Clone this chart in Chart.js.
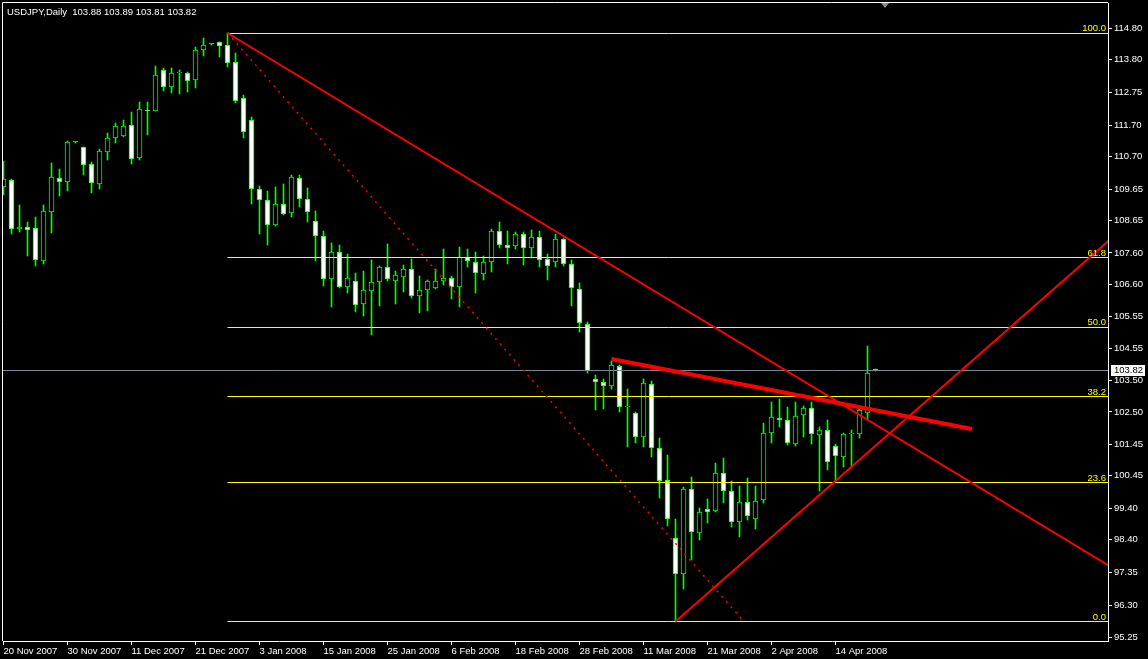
<!DOCTYPE html>
<html><head><meta charset="utf-8">
<script src="https://cdn.jsdelivr.net/npm/chart.js@4.4.1/dist/chart.umd.min.js"></script>
<style>html,body{margin:0;padding:0;background:#000;overflow:hidden}#wrap{width:1148px;height:659px;position:relative}</style>
</head><body><div id="wrap"><canvas id="c"></canvas></div>
<script>
const symbolTitle = 'USDJPY,Daily';
const lastQuote = ['103.88', '103.89', '103.81', '103.82'];

const open = [109.73,109.94,108.37,108.42,108.39,107.35,108.92,110.00,109.89,111.15,
111.00,110.46,109.82,110.85,111.30,111.36,111.71,110.65,112.19,112.17,
113.47,112.94,113.38,113.38,113.16,114.12,114.30,114.36,114.27,113.73,
112.56,111.86,109.64,109.29,108.49,109.16,108.87,110.00,109.32,108.62,
108.14,106.76,107.62,106.52,106.69,105.95,106.39,106.66,107.14,106.71,
106.84,107.08,106.23,106.42,106.49,106.69,106.79,106.50,107.46,107.30,
106.92,107.30,108.30,107.85,107.82,108.20,107.75,108.10,107.40,107.30,
108.04,107.24,106.43,105.31,103.55,103.45,103.32,103.96,102.65,102.46,
101.69,103.39,101.33,100.31,98.44,97.29,100.02,98.62,99.37,99.33,
100.53,99.95,98.96,99.60,99.07,99.66,101.81,102.30,102.23,101.46,
102.39,102.62,101.75,101.91,101.40,101.04,101.78,101.78,102.46,103.88];
const high = [110.55,109.97,109.14,108.59,108.76,109.14,110.49,110.30,111.19,111.16,
111.00,110.52,110.94,111.45,111.77,111.87,112.12,112.45,112.45,113.60,
113.54,113.54,113.47,113.41,114.21,114.50,114.31,114.36,114.66,114.02,
112.67,111.95,109.75,109.59,109.71,109.81,110.10,110.10,109.69,108.94,
108.31,107.92,107.86,107.57,106.96,107.02,107.38,107.18,107.89,107.02,
107.21,107.41,106.86,106.72,107.08,107.73,106.85,107.79,107.73,107.63,
107.50,108.36,108.59,108.30,108.26,108.26,108.33,108.30,107.56,108.20,
108.07,107.37,106.63,105.38,103.68,103.56,104.13,104.00,103.24,102.49,
103.56,103.49,101.66,101.12,99.06,100.08,100.40,99.43,99.71,100.86,
101.02,100.28,100.11,100.37,100.11,102.14,102.81,102.90,102.66,102.82,
102.68,102.81,102.01,102.24,101.46,101.81,101.92,102.65,104.62,103.89];
const low = [109.46,108.21,108.27,107.50,107.18,107.25,108.24,109.43,109.59,111.14,
110.10,109.53,109.65,110.58,111.13,111.32,110.46,110.58,111.39,112.15,
112.80,112.73,112.70,112.77,112.90,113.92,114.29,113.89,113.57,112.41,
111.30,109.18,108.22,107.87,108.47,108.82,108.76,109.09,108.60,107.35,
106.55,105.88,106.49,106.33,105.71,105.59,104.97,105.90,106.71,105.97,
106.36,106.17,105.68,105.75,106.45,106.56,106.13,105.88,107.14,106.31,
106.73,106.98,107.75,107.24,107.72,107.21,107.43,107.14,106.72,107.14,
107.17,105.90,105.05,103.76,102.57,102.60,103.23,102.51,101.38,101.51,
101.38,101.06,99.75,98.84,95.77,96.81,97.75,98.39,98.94,99.30,
99.59,98.82,98.50,99.04,98.75,99.57,101.49,102.03,101.43,101.40,
101.70,101.46,99.97,100.63,100.24,100.74,100.77,101.65,102.23,103.81];
const close = [109.97,108.37,108.43,108.35,107.38,108.95,110.04,109.89,111.16,111.15,
110.43,109.86,110.87,111.29,111.68,111.68,110.63,112.22,112.17,113.31,
112.94,113.38,113.40,113.13,114.11,114.27,114.30,114.25,113.71,112.49,
111.47,109.64,109.29,108.49,109.16,108.86,110.03,109.32,108.91,108.14,
106.76,107.62,106.52,106.79,105.92,106.40,106.66,107.14,106.78,106.88,
107.08,106.23,106.40,106.69,106.69,106.79,106.50,107.46,107.33,106.95,
107.30,108.30,107.85,107.75,108.20,107.75,108.10,107.37,107.17,108.04,
107.24,106.47,105.34,103.80,103.45,103.32,104.00,102.65,102.69,101.69,
103.42,101.33,100.27,99.05,97.29,100.02,98.64,99.28,99.28,100.53,
99.95,98.96,99.60,99.17,99.63,101.81,102.33,102.23,101.49,102.36,
102.62,101.78,101.91,100.88,101.08,101.78,101.80,102.55,103.74,103.82];

const dateTickLabels = ['20 Nov 2007','30 Nov 2007','11 Dec 2007','21 Dec 2007','3 Jan 2008','15 Jan 2008','25 Jan 2008','6 Feb 2008','18 Feb 2008','28 Feb 2008','11 Mar 2008','21 Mar 2008','2 Apr 2008','14 Apr 2008'];
const dateTickEvery = 8;
const priceTicks = [114.80,113.80,112.75,111.70,110.70,109.65,108.65,107.60,106.60,105.55,104.55,103.50,102.50,101.45,100.45,99.40,98.40,97.35,96.30,95.25];

const fibHigh = 114.66, fibLow = 95.77, fibStartBar = 28;
const fibLevels = [0, 23.6, 38.2, 50, 61.8, 100];
const bidPrice = 103.82;
const trendDown = [[28, 114.66], [140, 97.28]];
const fibDiagonal = [[28, 114.66], [92.3, 95.85]];
const trendUp = [[84, 95.77], [140, 108.41]];
const resistance = [[76, 104.20], [121.06, 101.95]];

const GREEN = '#00ff00';
const X_MIN = -0.0625, X_MAX = X_MIN + 1105 / 8;
const Y_MIN = 95.148, Y_MAX = 115.623;
const FONT = '"Liberation Sans", Arial, sans-serif';

const idx = open.map((_, i) => i);
const wickData = idx.map(i => ({x: i, y: [low[i], high[i]]}));
const bodyData = idx.map(i => ({x: i, y: [Math.min(open[i], close[i]), Math.max(open[i], close[i])]}));
const bodyFill = idx.map(i => close[i] > open[i] ? '#000000' : (close[i] < open[i] ? '#ffffff' : GREEN));
const pts = arr => arr.map(([x, y]) => ({x, y}));

const datasets = [
  {type: 'bar', data: wickData, backgroundColor: GREEN, borderWidth: 0, barThickness: 1, grouped: false, order: 20, snap: 'bar'},
  {type: 'bar', data: bodyData, backgroundColor: bodyFill, borderColor: GREEN, borderWidth: 1, borderSkipped: false, barThickness: 5, minBarLength: 1, grouped: false, order: 19, snap: 'bar'}
];
fibLevels.forEach(l => {
  const p = fibLow + (fibHigh - fibLow) * l / 100;
  datasets.push({type: 'line', data: [{x: fibStartBar, y: p}, {x: X_MAX + 1, y: p}], borderColor: '#ffff00', borderWidth: 1, pointRadius: 0, order: 10, snap: 'hline'});
});
datasets.push({type: 'line', data: [{x: X_MIN - 1, y: bidPrice}, {x: X_MAX + 1, y: bidPrice}], borderColor: '#778899', borderWidth: 1, pointRadius: 0, order: 9, snap: 'hline'});
datasets.push({type: 'line', data: pts(fibDiagonal), borderColor: '#ff0000', borderWidth: 1.5, borderDash: [2, 5], pointRadius: 0, order: 4});
datasets.push({type: 'line', data: pts(trendDown), borderColor: '#ff0000', borderWidth: 2, pointRadius: 0, order: 3});
datasets.push({type: 'line', data: pts(trendUp), borderColor: '#ff0000', borderWidth: 2, pointRadius: 0, order: 2});
datasets.push({type: 'line', data: pts(resistance), borderColor: '#ff0000', borderWidth: 4, pointRadius: 0, order: 1});

const overlay = {
  id: 'overlay',
  beforeDraw(chart) {
    const c = chart.ctx; c.save(); c.fillStyle = '#000'; c.fillRect(0, 0, chart.width, chart.height); c.restore();
  },
  afterDatasetUpdate(chart, args) {
    const ds = chart.data.datasets[args.index];
    const meta = args.meta;
    if (ds.snap === 'hline') {
      meta.data.forEach(p => { p.y = Math.round(p.y - 0.5) + 0.5; });
    } else if (ds.snap === 'bar') {
      meta.data.forEach(b => { b.y = Math.round(b.y); b.base = Math.round(b.base); });
    }
  },
  afterDraw(chart) {
    const c = chart.ctx, a = chart.chartArea, xs = chart.scales.x, ys = chart.scales.y;
    c.save();
    c.strokeStyle = '#ffffff'; c.lineWidth = 1;
    c.beginPath(); c.moveTo(a.left - 0.5, a.bottom); c.lineTo(a.left - 0.5, a.top - 0.5); c.lineTo(a.right, a.top - 0.5); c.stroke();
    c.font = '9.5px ' + FONT;
    c.fillStyle = '#ffff00'; c.textAlign = 'right'; c.textBaseline = 'alphabetic';
    fibLevels.forEach(l => {
      const y = Math.round(ys.getPixelForValue(fibLow + (fibHigh - fibLow) * l / 100));
      c.fillText(l.toFixed(1), a.right - 2, y - 2);
    });
    const by = ys.getPixelForValue(bidPrice);
    c.fillStyle = '#ffffff'; c.fillRect(a.right + 3, Math.round(by) - 6, 34, 11);
    c.fillStyle = '#000000'; c.textAlign = 'left'; c.textBaseline = 'middle';
    c.fillText(bidPrice.toFixed(2), a.right + 6, by);
    c.fillStyle = '#ffffff'; c.textBaseline = 'alphabetic';
    c.fillText(symbolTitle + '  ' + lastQuote.join(' '), 7, 15);
    const sx = Math.round(xs.getPixelForValue(open.length + 0.2));
    c.fillStyle = '#8c8c8c';
    c.beginPath(); c.moveTo(sx - 4, a.top); c.lineTo(sx + 4, a.top); c.lineTo(sx, a.top + 5); c.closePath(); c.fill();
    c.restore();
  }
};

const noPad = s => { s.paddingTop = 0; s.paddingBottom = 0; s.paddingLeft = 0; s.paddingRight = 0; };

new Chart(document.getElementById('c'), {
  type: 'bar',
  data: {datasets},
  options: {
    responsive: true, maintainAspectRatio: false, animation: false, devicePixelRatio: 1,
    layout: {padding: {left: 3, top: 3, right: 0, bottom: 0}},
    plugins: {legend: {display: false}, tooltip: {enabled: false}, title: {display: false}},
    font: {family: FONT, size: 9.5},
    scales: {
      x: {
        type: 'linear', min: X_MIN, max: X_MAX, bounds: 'data', offset: false,
        afterBuildTicks: s => { s.ticks = dateTickLabels.map((_, k) => ({value: k * dateTickEvery})); },
        afterFit: s => { s.height = 18; noPad(s); },
        ticks: {autoSkip: false, maxRotation: 0, minRotation: 0, align: 'start', padding: 1, color: '#ffffff',
          font: {family: FONT, size: 9.5}, callback: (v, i) => dateTickLabels[i]},
        grid: {drawOnChartArea: false, drawTicks: true, tickLength: 4, color: '#ffffff', offset: false},
        border: {display: true, color: '#ffffff'}
      },
      y: {
        type: 'linear', position: 'right', min: Y_MIN, max: Y_MAX, bounds: 'data', beginAtZero: false,
        afterBuildTicks: s => { s.ticks = priceTicks.map(v => ({value: v})); },
        afterFit: s => { s.width = 40; noPad(s); },
        ticks: {color: '#ffffff', padding: 2, font: {family: FONT, size: 9.5}, callback: v => v.toFixed(2)},
        grid: {drawOnChartArea: false, drawTicks: true, tickLength: 4, color: '#ffffff'},
        border: {display: true, color: '#ffffff'}
      }
    }
  },
  plugins: [overlay]
});
</script></body></html>
